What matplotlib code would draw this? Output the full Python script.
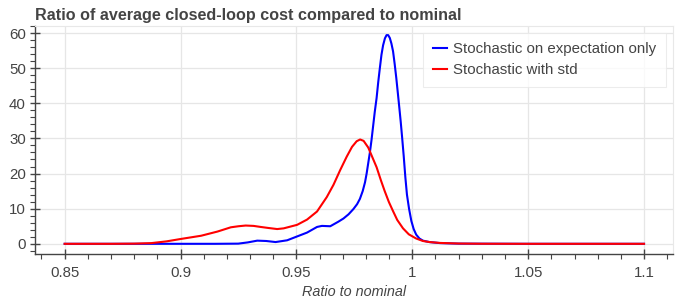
import matplotlib
matplotlib.use("Agg")
import matplotlib.pyplot as plt
from matplotlib.ticker import MultipleLocator

# curve values
blue_x = [0.85, 0.88, 0.90, 0.915, 0.9249, 0.929, 0.9331, 0.937, 0.941, 0.946,
          0.9503, 0.9546, 0.9589, 0.961, 0.9646, 0.9681, 0.9703, 0.9725, 0.9746,
          0.9762, 0.9774, 0.9786, 0.9796, 0.9803, 0.981, 0.9817, 0.9824, 0.9831,
          0.9838, 0.9846, 0.9853, 0.986, 0.9867, 0.9874, 0.9882, 0.9889, 0.9896,
          0.9903, 0.991, 0.9917, 0.9924, 0.9931, 0.9938, 0.9944, 0.995, 0.9956,
          0.9963, 0.997, 0.9977, 0.9986, 0.9996, 1.0006, 1.0017, 1.0031, 1.0046,
          1.0074, 1.012, 1.02, 1.05, 1.1]
blue_y = [0, 0, 0, 0, 0.05, 0.4, 0.9, 0.8, 0.5, 1.0,
          2.1, 3.2, 4.8, 5.1, 5.0, 6.3, 7.2, 8.4, 9.9,
          11.3, 12.8, 15.0, 17.5, 20.0, 23.0, 26.0, 29.5, 33.5,
          37.5, 41.5, 46.0, 50.0, 53.8, 56.5, 58.5, 59.4, 59.4,
          58.6, 57.0, 54.8, 51.2, 47.2, 42.7, 38.8, 34.8, 30.4,
          25.0, 19.0, 14.0, 10.0, 6.5, 4.2, 2.6, 1.5, 0.9,
          0.5, 0.2, 0.05, 0, 0]

red_x = [0.85, 0.87, 0.88, 0.8874, 0.894, 0.9003, 0.9089, 0.916, 0.9217, 0.925,
         0.9281, 0.9315, 0.9346, 0.938, 0.9417, 0.9445, 0.9474, 0.9503, 0.9546,
         0.9589, 0.9631, 0.966, 0.9689, 0.9717, 0.974, 0.976, 0.9775, 0.979,
         0.981, 0.9828, 0.9846, 0.9865, 0.9881, 0.9899, 0.9917, 0.9935, 0.996,
         0.9985, 1.0017, 1.0046, 1.0074, 1.012, 1.02, 1.03, 1.05, 1.1]
red_y = [0, 0, 0.05, 0.2, 0.7, 1.4, 2.3, 3.5, 4.7, 5.0,
         5.2, 5.1, 4.8, 4.5, 4.2, 4.4, 4.9, 5.4, 6.9,
         9.2, 13.3, 16.8, 21.0, 24.8, 27.6, 29.2, 29.7, 29.3,
         27.4, 24.6, 21.8, 18.0, 15.0, 11.9, 9.3, 6.8, 4.4,
         2.7, 1.5, 0.8, 0.5, 0.25, 0.08, 0.02, 0, 0]

x_ticks = [0.85, 0.9, 0.95, 1.0, 1.05, 1.1]
x_tick_labels = ["0.85", "0.9", "0.95", "1", "1.05", "1.1"]
y_ticks = [0, 10, 20, 30, 40, 50, 60]

plt.rcParams['font.family'] = ['Liberation Sans', 'DejaVu Sans']
text_col = "#444444"

fig = plt.figure(figsize=(6.94, 2.99), dpi=100)
W, H = 694, 299
ax = fig.add_axes([35 / W, 1 - 254 / H, (673 - 35) / W, (254 - 26) / H])

ax.plot(blue_x, blue_y, color="blue", lw=1.5, label="Stochastic on expectation only")
ax.plot(red_x, red_y, color="red", lw=1.5, label="Stochastic with std")

ax.set_xlim(0.8372, 1.1125)
ax.set_ylim(-2.9, 62.0)
ax.set_xticks(x_ticks)
ax.set_xticklabels(x_tick_labels)
ax.set_yticks(y_ticks)
ax.xaxis.set_minor_locator(MultipleLocator(0.01))
ax.yaxis.set_minor_locator(MultipleLocator(2))

ax.grid(True, which="major", color="#e6e6e6", lw=0.9)
ax.set_axisbelow(True)

for side in ["top", "right"]:
    ax.spines[side].set_color("#e8e8e8")
    ax.spines[side].set_linewidth(0.8)
for side in ["left", "bottom"]:
    ax.spines[side].set_color(text_col)
    ax.spines[side].set_linewidth(1.0)

ax.tick_params(which="major", direction="inout", length=7, width=1,
               colors=text_col, labelsize=10.8, pad=3)
ax.tick_params(which="minor", direction="out", length=3.5, width=0.8, colors=text_col)
ax.tick_params(axis="x", which="major", pad=5)

ax.set_xlabel("Ratio to nominal", fontsize=10.4, style="italic", color=text_col, labelpad=4)
ax.set_title("Ratio of average closed-loop cost compared to nominal",
             loc="left", fontsize=11.6, fontweight="bold", color=text_col, pad=4.5)

leg = ax.legend(loc="upper right", fontsize=10.8, frameon=True, fancybox=False,
                handlelength=0.95, handletextpad=0.4, labelspacing=0.45,
                borderpad=0.65, borderaxespad=0.45)
leg.get_frame().set_edgecolor("#e8e8e8")
leg.get_frame().set_linewidth(0.8)
for t in leg.get_texts():
    t.set_color(text_col)

fig.savefig("out.png", dpi=100)
